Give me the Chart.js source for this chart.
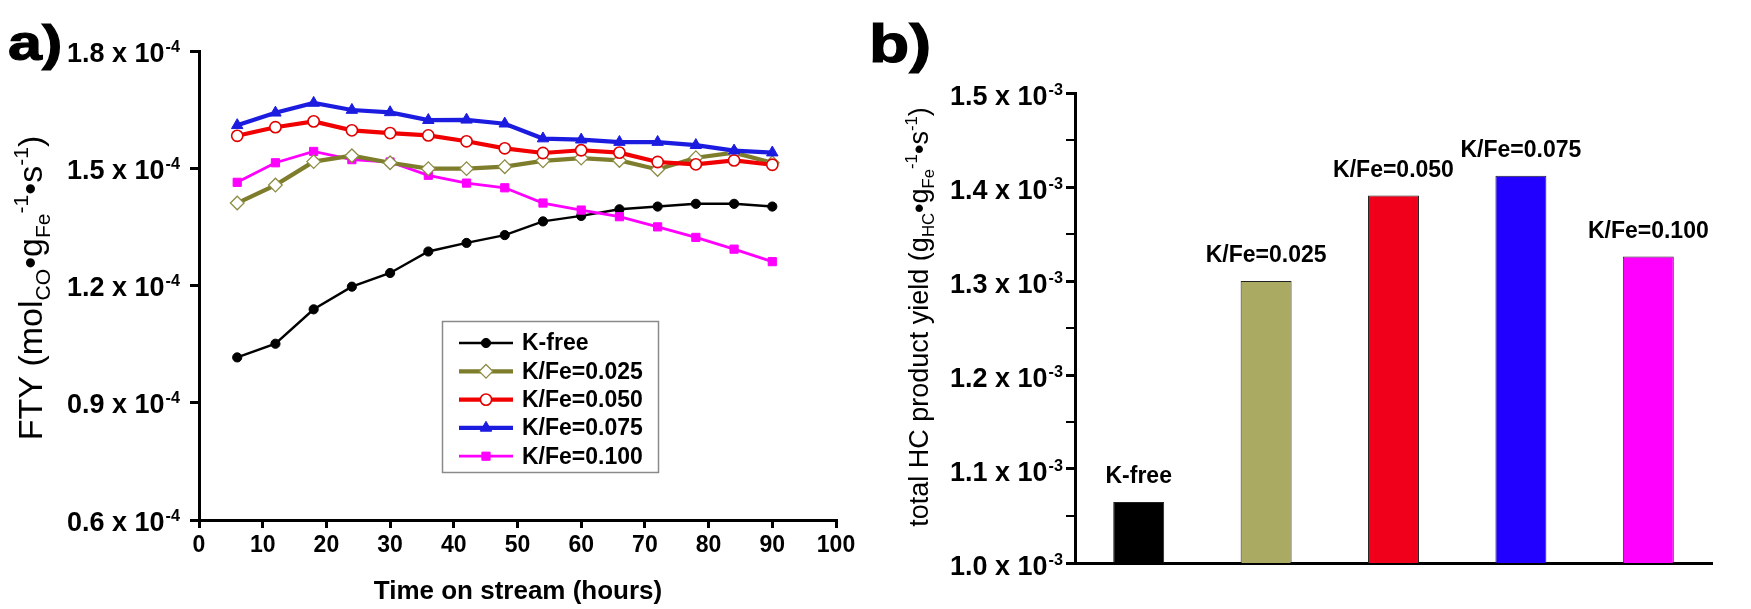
<!DOCTYPE html>
<html><head><meta charset="utf-8">
<script src="https://cdn.jsdelivr.net/npm/chart.js@4.4.1/dist/chart.umd.min.js"></script>
<style>
html,body{margin:0;padding:0;background:#fff;width:1751px;height:609px;overflow:hidden}
#wa{position:absolute;left:0;top:0;width:870px;height:609px}
#wb{position:absolute;left:870px;top:0;width:881px;height:609px}
</style></head><body>
<div id="wa"><canvas id="ca"></canvas></div>
<div id="wb"><canvas id="cb"></canvas></div>
<script>
// ---- data (panel a: FTY, units of 10^-4) ----
const hours = [6,12,18,24,30,36,42,48,54,60,66,72,78,84,90];
const kFree  = [1.016,1.051,1.139,1.197,1.232,1.287,1.309,1.329,1.364,1.378,1.395,1.402,1.409,1.409,1.402];
const kFe025 = [1.411,1.457,1.517,1.532,1.514,1.499,1.499,1.504,1.519,1.526,1.520,1.497,1.527,1.540,1.514];
const kFe050 = [1.583,1.605,1.620,1.597,1.590,1.584,1.569,1.551,1.539,1.546,1.540,1.516,1.510,1.520,1.509];
const kFe075 = [1.610,1.642,1.667,1.649,1.643,1.623,1.624,1.614,1.576,1.573,1.567,1.567,1.559,1.545,1.540];
const kFe100 = [1.464,1.514,1.543,1.522,1.516,1.482,1.462,1.450,1.411,1.393,1.376,1.350,1.323,1.293,1.261];
const seriesNames = ['K-free','K/Fe=0.025','K/Fe=0.050','K/Fe=0.075','K/Fe=0.100'];
const ftyTicks = [0.6,0.9,1.2,1.5,1.8];      // x 10^-4
const ftyExp = '-4';
// ---- data (panel b: total HC yield, units of 10^-3) ----
const barCategories = ['K-free','K/Fe=0.025','K/Fe=0.050','K/Fe=0.075','K/Fe=0.100'];
const hcYield = [1.065,1.300,1.391,1.412,1.326];
const hcTicks = [1.0,1.1,1.2,1.3,1.4,1.5];   // x 10^-3
const hcExp = '-3';

const FONT = '"Liberation Sans", Arial, Helvetica, sans-serif';
const lineStyles = [
  {color:'#000000', lw:2.4, pt:'circle',   r:4.6, fill:'#000000', pbc:'#000000', pbw:1},
  {color:'#7d7d2c', lw:4.2, pt:'rectRot',  r:6.8, fill:'#ffffff', pbc:'#8c8c45', pbw:1.3},
  {color:'#f00000', lw:4.2, pt:'circle',   r:5.6, fill:'#ffffff', pbc:'#e00000', pbw:1.6},
  {color:'#1c1ce0', lw:4.2, pt:'triangle', r:6.6, fill:'#1c1ce0', pbc:'#1c1ce0', pbw:1},
  {color:'#ff00ff', lw:2.8, pt:'rect',     r:5.8, fill:'#ff00ff', pbc:'#ff00ff', pbw:1}
];
const drawOrder = [4,2,1,0,3];
const barColors = ['#000000','#abaa62','#f0001a','#2100ff','#ff00ff'];

function fnt(w, s, fam){ return `${w} ${s}px ${fam || FONT}`; }
function drawSci(ctx, main, exp, rightX, y, size){
  ctx.save();
  ctx.fillStyle = '#000';
  ctx.textBaseline = 'alphabetic';
  ctx.textAlign = 'left';
  ctx.font = fnt('bold', size);
  const wm = ctx.measureText(main).width;
  ctx.font = fnt('bold', size*0.6);
  const we = ctx.measureText(exp).width;
  const x0 = rightX - wm - 1 - we;
  const base = y + size*0.716/2;
  ctx.font = fnt('bold', size);
  ctx.fillText(main, x0, base);
  ctx.font = fnt('bold', size*0.6);
  ctx.fillText(exp, x0 + wm + 1, base - size*0.37);
  ctx.restore();
}
function richMeasure(ctx, segs, size, weight){
  let w = 0;
  for (const s of segs){ ctx.font = fnt(weight, s.k==='n'?size:size*0.62); w += ctx.measureText(s.t).width; }
  return w;
}
function richDraw(ctx, segs, x, y, size, weight){
  let cx = x;
  for (const s of segs){
    ctx.font = fnt(weight, s.k==='n'?size:size*0.62);
    const dy = s.k==='sub' ? size*0.24 : (s.k==='sup' ? -size*0.42 : 0);
    ctx.fillText(s.t, cx, y+dy);
    cx += ctx.measureText(s.t).width;
  }
}
function drawRotTitle(ctx, segs, bx, cy, size, weight){
  ctx.save();
  ctx.fillStyle = '#000';
  ctx.textBaseline = 'alphabetic';
  ctx.textAlign = 'left';
  ctx.translate(bx, cy);
  ctx.rotate(-Math.PI/2);
  const w = richMeasure(ctx, segs, size, weight);
  richDraw(ctx, segs, -w/2, 0, size, weight);
  ctx.restore();
}
function panelLetter(ctx, txt, x, y, size){
  ctx.save();
  ctx.fillStyle = '#000'; ctx.strokeStyle = '#000'; ctx.lineWidth = 1.2;
  ctx.textAlign = 'left'; ctx.textBaseline = 'alphabetic';
  ctx.font = fnt('bold', size);
  ctx.translate(x, y); ctx.scale(1.22, 1);
  ctx.fillText(txt, 0, 0);
  ctx.strokeText(txt, 0, 0);
  ctx.restore();
}
function marker(ctx, st, x, y){
  ctx.save();
  ctx.fillStyle = st.fill; ctx.strokeStyle = st.pbc; ctx.lineWidth = st.pbw;
  ctx.beginPath();
  const r = st.r;
  if (st.pt === 'circle') ctx.arc(x, y, r, 0, Math.PI*2);
  else if (st.pt === 'rectRot'){ ctx.moveTo(x, y-r); ctx.lineTo(x+r, y); ctx.lineTo(x, y+r); ctx.lineTo(x-r, y); ctx.closePath(); }
  else if (st.pt === 'triangle'){ const hw = r*Math.sqrt(3)/2; ctx.moveTo(x, y-r); ctx.lineTo(x+hw, y+r/2); ctx.lineTo(x-hw, y+r/2); ctx.closePath(); }
  else { const s = r*Math.SQRT1_2; ctx.rect(x-s, y-s, 2*s, 2*s); }
  ctx.fill(); ctx.stroke();
  ctx.restore();
}

const lineSeries = [kFree, kFe025, kFe050, kFe075, kFe100];

const decorA = {
  id: 'decorA',
  afterDraw(chart){
    const ctx = chart.ctx;
    const ys = chart.scales.y;
    for (const v of ftyTicks) drawSci(ctx, v.toFixed(1) + ' x 10', ftyExp, 180, ys.getPixelForValue(v) + 1, 27);
    // y title
    drawRotTitle(ctx, [
      {t:'FTY (mol',k:'n'},{t:'CO',k:'sub'},{t:'\u2022g',k:'n'},{t:'Fe',k:'sub'},{t:'-1',k:'sup'},
      {t:'\u2022s',k:'n'},{t:'-1',k:'sup'},{t:')',k:'n'}], 42, 288, 34, 'normal');
    // x title
    ctx.save();
    ctx.fillStyle = '#000'; ctx.font = fnt('bold', 26); ctx.textAlign = 'center'; ctx.textBaseline = 'alphabetic';
    ctx.fillText('Time on stream (hours)', 518, 599);
    ctx.restore();
    panelLetter(ctx, 'a)', 8, 60, 50);
    // legend
    ctx.save();
    ctx.fillStyle = '#fff';
    ctx.fillRect(442, 321, 217, 152);
    ctx.strokeStyle = '#8a8a8a'; ctx.lineWidth = 1.5;
    ctx.strokeRect(442.5, 321.5, 216, 151);
    for (let i = 0; i < seriesNames.length; i++){
      const st = lineStyles[i];
      const y = 343 + i*28.3;
      ctx.strokeStyle = st.color; ctx.lineWidth = st.lw;
      ctx.beginPath(); ctx.moveTo(459, y); ctx.lineTo(513, y); ctx.stroke();
      marker(ctx, st, 486, y);
      ctx.fillStyle = '#000'; ctx.font = fnt('bold', 23); ctx.textBaseline = 'middle'; ctx.textAlign = 'left';
      ctx.fillText(seriesNames[i], 522, y + 1);
    }
    ctx.restore();
  }
};

new Chart(document.getElementById('ca'), {
  type: 'line',
  data: {
    datasets: lineSeries.map((vals, i) => ({
      label: seriesNames[i],
      data: hours.map((h, j) => ({x: h, y: vals[j]})),
      borderColor: lineStyles[i].color,
      backgroundColor: lineStyles[i].fill,
      borderWidth: lineStyles[i].lw,
      pointStyle: lineStyles[i].pt,
      pointRadius: lineStyles[i].r,
      pointBackgroundColor: lineStyles[i].fill,
      pointBorderColor: lineStyles[i].pbc,
      pointBorderWidth: lineStyles[i].pbw,
      tension: 0, fill: false, clip: false,
      order: drawOrder[i]
    }))
  },
  options: {
    responsive: true, maintainAspectRatio: false, devicePixelRatio: 1, animation: false,
    layout: {padding: {top: 51, right: 34, left: 0, bottom: 0}},
    plugins: {legend: {display: false}, tooltip: {enabled: false}, title: {display: false}},
    scales: {
      x: {
        type: 'linear', min: 0, max: 100,
        ticks: {stepSize: 10, autoSkip: false, maxRotation: 0, padding: 4, color: '#000', font: {family: FONT, size: 23, weight: 'bold'}},
        grid: {drawOnChartArea: false, drawTicks: true, tickLength: 8, color: '#000', lineWidth: 3},
        border: {display: true, color: '#000', width: 3},
        afterFit: s => { s.height = 89; }
      },
      y: {
        type: 'linear', min: 0.6, max: 1.8,
        ticks: {stepSize: 0.3, display: false},
        grid: {drawOnChartArea: false, drawTicks: true, tickLength: 9, color: '#000', lineWidth: 3},
        border: {display: true, color: '#000', width: 3},
        afterFit: s => { s.width = 199; }
      }
    }
  },
  plugins: [decorA]
});

const decorB = {
  id: 'decorB',
  afterDraw(chart){
    const ctx = chart.ctx;
    const ys = chart.scales.y;
    for (const v of hcTicks) drawSci(ctx, v.toFixed(1) + ' x 10', hcExp, 193, ys.getPixelForValue(v) + 2, 27);
    drawRotTitle(ctx, [
      {t:'total HC product yield (g',k:'n'},{t:'HC',k:'sub'},{t:'\u2022g',k:'n'},{t:'Fe',k:'sub'},{t:'-1',k:'sup'},
      {t:'\u2022s',k:'n'},{t:'-1',k:'sup'},{t:')',k:'n'}], 58, 317, 27, 'normal');
    // bar labels
    const meta = chart.getDatasetMeta(0);
    ctx.save();
    ctx.fillStyle = '#000'; ctx.font = fnt('bold', 23); ctx.textAlign = 'center'; ctx.textBaseline = 'middle';
    meta.data.forEach((bar, i) => { ctx.fillText(barCategories[i], bar.x, bar.y - 25); });
    ctx.restore();
    panelLetter(ctx, 'b)', -1, 62, 54);
  }
};

new Chart(document.getElementById('cb'), {
  type: 'bar',
  data: {
    labels: barCategories,
    datasets: [{
      label: 'total HC product yield',
      data: hcYield,
      backgroundColor: barColors,
      borderColor: '#222222',
      borderWidth: 1,
      borderSkipped: 'bottom',
      barPercentage: 0.4,
      categoryPercentage: 1.0
    }]
  },
  options: {
    responsive: true, maintainAspectRatio: false, devicePixelRatio: 1, animation: false,
    layout: {padding: {top: 93, right: 39, left: 0, bottom: 0}},
    plugins: {legend: {display: false}, tooltip: {enabled: false}, title: {display: false}},
    scales: {
      x: {
        type: 'category', offset: true,
        ticks: {display: false},
        grid: {display: false},
        border: {display: true, color: '#000', width: 3},
        afterFit: s => { s.height = 46; }
      },
      y: {
        type: 'linear', min: 1.0, max: 1.5,
        ticks: {stepSize: 0.05, display: false},
        grid: {drawOnChartArea: false, drawTicks: true, tickLength: 9, color: '#000',
               lineWidth: c => { const v = c.tick ? c.tick.value : 0; return Math.abs(v*10 - Math.round(v*10)) < 1e-6 ? 3 : 2; }},
        border: {display: true, color: '#000', width: 3},
        afterFit: s => { s.width = 205; }
      }
    }
  },
  plugins: [decorB]
});
</script>
</body></html>
